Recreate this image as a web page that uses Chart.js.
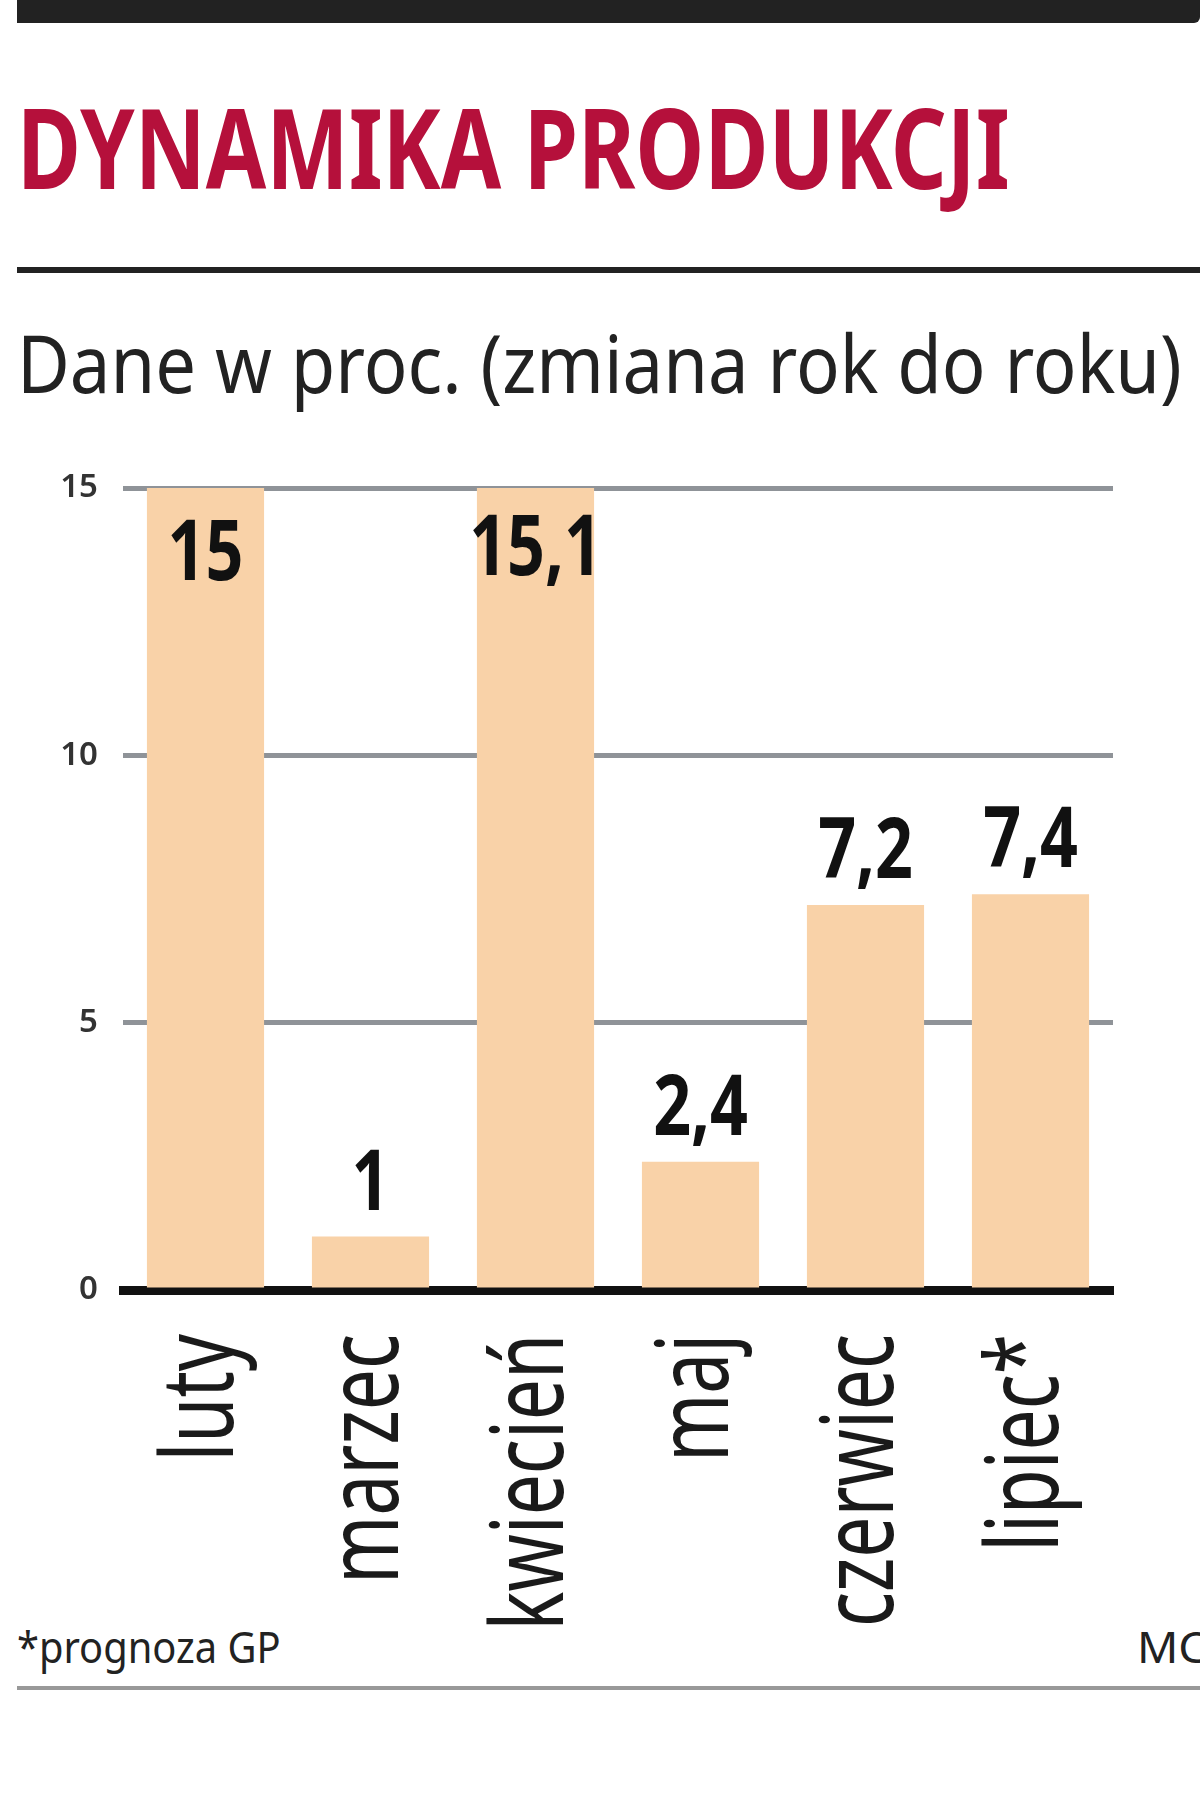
<!DOCTYPE html>
<html lang="pl">
<head>
<meta charset="utf-8">
<title>Dynamika produkcji</title>
<script src="https://cdn.jsdelivr.net/npm/chart.js@4.4.1/dist/chart.umd.min.js"></script>
<style>
  html, body { margin: 0; padding: 0; background: #fff; }
  body { width: 1200px; height: 1800px; position: relative; overflow: hidden; font-family: "Noto Sans", sans-serif; }
  .pasek { position: absolute; left: 17px; right: 0; background: #222; }
  .tekst { position: absolute; white-space: nowrap; transform-origin: 0 0; line-height: 1; }
  #tytul { left: 17px; top: 90px; font-size: 112px; font-weight: 700; color: #b5103b; }
  #podtytul { left: 17px; top: 322px; font-size: 80px; color: #222; }
  #przypis { left: 17px; top: 1625px; font-size: 43px; color: #222; }
  #zrodlo { left: 1137px; top: 1625px; font-size: 43px; color: #222; }
  #wykres { position: absolute; left: 0; top: 0; }
</style>
</head>
<body>
<div class="pasek" style="top:0;height:23px;border-radius:0 0 6px 0;"></div>
<div class="tekst" id="tytul" data-szer="993">DYNAMIKA PRODUKCJI</div>
<div class="pasek" style="top:267px;height:6px;"></div>
<div class="tekst" id="podtytul" data-szer="1165">Dane w proc. (zmiana rok do roku)</div>
<div class="tekst" id="przypis" data-szer="264">*prognoza GP</div>
<div class="tekst" id="zrodlo" data-szer="70">MC</div>
<div class="pasek" style="top:1686px;height:4px;background:#999;"></div>
<canvas id="wykres" width="1200" height="1800"></canvas>

<script>
/* Dane z wykresu */
const miesiace = ['luty', 'marzec', 'kwiecień', 'maj', 'czerwiec', 'lipiec*'];
const dynamika = [15, 1, 15.1, 2.4, 7.2, 7.4];
const podzialka = [0, 5, 10, 15];

/* Ściśnięcie napisów do szerokości z oryginału */
document.querySelectorAll('.tekst').forEach(function (el) {
    let szer = parseFloat(el.dataset.szer);
    el.style.transform = 'scaleX(' + (szer / el.scrollWidth) + ')';
});

/* Wartości nad słupkami i nazwy miesięcy (pionowo) */
const napisy = {
    id: 'napisy',
    afterDatasetsDraw(chart) {
        const ctx = chart.ctx;
        const meta = chart.getDatasetMeta(0);
        const skalaX = chart.scales.x;
        const maks = chart.scales.y.max;

        ctx.save();
        ctx.fillStyle = '#111';
        ctx.font = 'bold 85px "Noto Sans"';
        ctx.textAlign = 'center';
        ctx.textBaseline = 'alphabetic';
        meta.data.forEach(function (bar, i) {
            let tekst = String(dynamika[i]).replace('.', ',');
            let y = dynamika[i] >= maks ? bar.y + 92 : bar.y - 27;
            ctx.save();
            ctx.translate(bar.x, y);
            ctx.scale(0.78, 1);
            ctx.fillText(tekst, 0, 0);
            ctx.restore();
        });
        ctx.restore();

        ctx.save();
        ctx.fillStyle = '#1a1a1a';
        ctx.font = '100px "Noto Sans"';
        ctx.textAlign = 'right';
        ctx.textBaseline = 'alphabetic';
        miesiace.forEach(function (m, i) {
            let x = skalaX.getPixelForTick(i);
            ctx.save();
            ctx.translate(x + 27, chart.chartArea.bottom + 44);
            ctx.rotate(-Math.PI / 2);
            ctx.scale(0.73, 1);
            ctx.fillText(m, 0, 0);
            ctx.restore();
        });
        ctx.restore();
    }
};

const ctx = document.getElementById('wykres');
new Chart(ctx, {
    type: 'bar',
    data: {
        labels: miesiace,
        datasets: [{
            data: dynamika,
            backgroundColor: '#f9d2a8',
            borderWidth: 0,
            barPercentage: 0.71,
            categoryPercentage: 1
        }]
    },
    options: {
        responsive: false,
        animation: false,
        devicePixelRatio: 1,
        layout: { padding: { top: 488, bottom: 502, left: 0, right: 87 } },
        plugins: { legend: { display: false }, tooltip: { enabled: false } },
        scales: {
            x: {
                z: 1,
                grid: { display: false },
                border: { display: true, color: '#111', width: 9 },
                ticks: { display: false }
            },
            y: {
                min: 0,
                max: 15,
                afterBuildTicks: function (axis) {
                    axis.ticks = podzialka.map(v => ({ value: v }));
                },
                afterFit: function (axis) { axis.width = 123; },
                grid: { color: '#8f9398', lineWidth: 5, drawTicks: false },
                border: { display: false },
                ticks: {
                    padding: 25,
                    color: '#333',
                    font: { family: '"Noto Sans"', size: 33, weight: '600' }
                }
            }
        }
    },
    plugins: [napisy]
});
</script>
</body>
</html>
